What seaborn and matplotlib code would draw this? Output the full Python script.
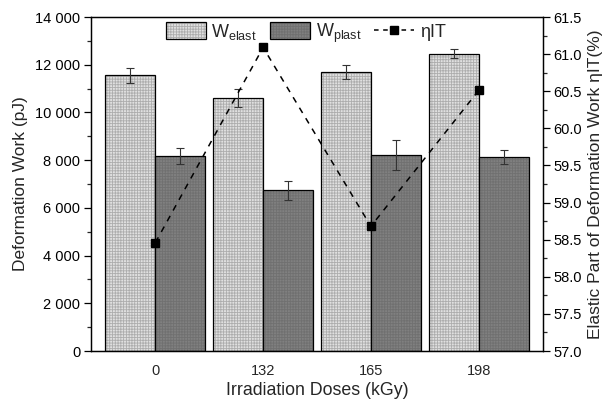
import numpy as np
import pandas as pd
import matplotlib
matplotlib.use("Agg")
import matplotlib.pyplot as plt
from matplotlib.ticker import MultipleLocator, FuncFormatter
from matplotlib.patches import Patch
from matplotlib.lines import Line2D
import seaborn as sns

# --- data ---
doses = ["0", "132", "165", "198"]
w_elast = [11550, 10600, 11690, 12470]
w_elast_err = [300, 380, 300, 200]
w_plast = [8180, 6740, 8210, 8130]
w_plast_err = [350, 400, 620, 290]
eta_it = [58.46, 61.09, 58.68, 60.51]

LIGHT = "#e0e0e0"
LIGHT_HATCH = "#adadad"
DARK = "#808080"
DARK_HATCH = "#707070"

sns.set_theme(style="white")
plt.rcParams["font.family"] = ["Liberation Sans", "DejaVu Sans"]
plt.rcParams["mathtext.default"] = "regular"
plt.rcParams["hatch.linewidth"] = 0.6

df = pd.DataFrame({
    "dose": doses * 2,
    "work": w_elast + w_plast,
    "err": w_elast_err + w_plast_err,
    "kind": ["elast"] * len(doses) + ["plast"] * len(doses),
})

fig = plt.figure(figsize=(6.06, 4.08), dpi=100)
ax = fig.add_axes([0.1497, 0.1397, 0.7468, 0.8186])

sns.barplot(data=df, x="dose", y="work", hue="kind", order=doses,
            hue_order=["elast", "plast"], palette=[LIGHT, DARK],
            width=0.926, gap=0, errorbar=None, legend=False,
            edgecolor="black", linewidth=0.9, saturation=1, ax=ax)

# hatch + error bars on each bar
n = len(doses)
for i, p in enumerate(ax.patches[:2 * n]):
    light = i < n
    p.set_hatch("++++++")
    p._hatch_color = matplotlib.colors.to_rgba(LIGHT_HATCH if light else DARK_HATCH)
    cx = p.get_x() + p.get_width() / 2
    err = df["err"].iloc[i]
    ax.errorbar(cx, p.get_height(), yerr=err, fmt="none", ecolor="#333333",
                elinewidth=0.8, capsize=2.7, capthick=0.8, zorder=5)

ax.set_xlim(-0.6, 3.6)
ax.set_ylim(0, 14000)
ax.yaxis.set_major_locator(MultipleLocator(2000))
ax.yaxis.set_minor_locator(MultipleLocator(1000))
ax.yaxis.set_major_formatter(FuncFormatter(lambda v, _: f"{int(v):,}".replace(",", " ")))
ax.tick_params(axis="y", which="major", direction="out", length=5, width=0.9,
               left=True, labelsize=10.5, colors="black", pad=2.5)
ax.tick_params(axis="y", which="minor", direction="out", length=3, width=0.9, left=True)
ax.tick_params(axis="x", length=0, labelsize=10.5, pad=9)
ax.set_xlabel("Irradiation Doses (kGy)", fontsize=12.8, labelpad=3)
ax.set_ylabel("Deformation Work (pJ)", fontsize=12.5, labelpad=5)

for s in ax.spines.values():
    s.set_color("black")
    s.set_linewidth(0.9)

# eta IT on the right axis
ax2 = ax.twinx()
ax2.plot(np.arange(n), eta_it, linestyle=(0, (4, 4)), color="black", lw=1.1,
         marker="s", markersize=5.2, zorder=6)
ax2.set_ylim(57.0, 61.5)
ax2.yaxis.set_major_locator(MultipleLocator(0.5))
ax2.yaxis.set_minor_locator(MultipleLocator(0.25))
ax2.yaxis.set_major_formatter(FuncFormatter(lambda v, _: f"{v:.1f}"))
ax2.tick_params(axis="y", which="major", direction="out", length=5, width=0.9,
                right=True, labelsize=10.5, colors="black", pad=2.5)
ax2.tick_params(axis="y", which="minor", direction="out", length=3, width=0.9, right=True)
ax2.set_ylabel("Elastic Part of Deformation Work ηIT(%)", fontsize=12.5, labelpad=4)
for s in ax2.spines.values():
    s.set_color("black")
    s.set_linewidth(0.9)

handles = [
    Patch(facecolor=LIGHT, edgecolor="black", hatch="++++++", linewidth=0.9),
    Patch(facecolor=DARK, edgecolor="black", hatch="++++++", linewidth=0.9),
    Line2D([], [], linestyle=(0, (3, 3)), color="black", lw=1.1, marker="s", markersize=5.2),
]
handles[0]._hatch_color = matplotlib.colors.to_rgba(LIGHT_HATCH)
handles[1]._hatch_color = matplotlib.colors.to_rgba(DARK_HATCH)
ax2.legend(handles, ["W$_{elast}$", "W$_{plast}$", "ηIT"], ncol=3, frameon=False,
           loc="upper center", bbox_to_anchor=(0.475, 1.035), fontsize=13,
           handlelength=2.2, handleheight=1.05, columnspacing=0.7, handletextpad=0.33)

fig.savefig("out.png", dpi=100)
